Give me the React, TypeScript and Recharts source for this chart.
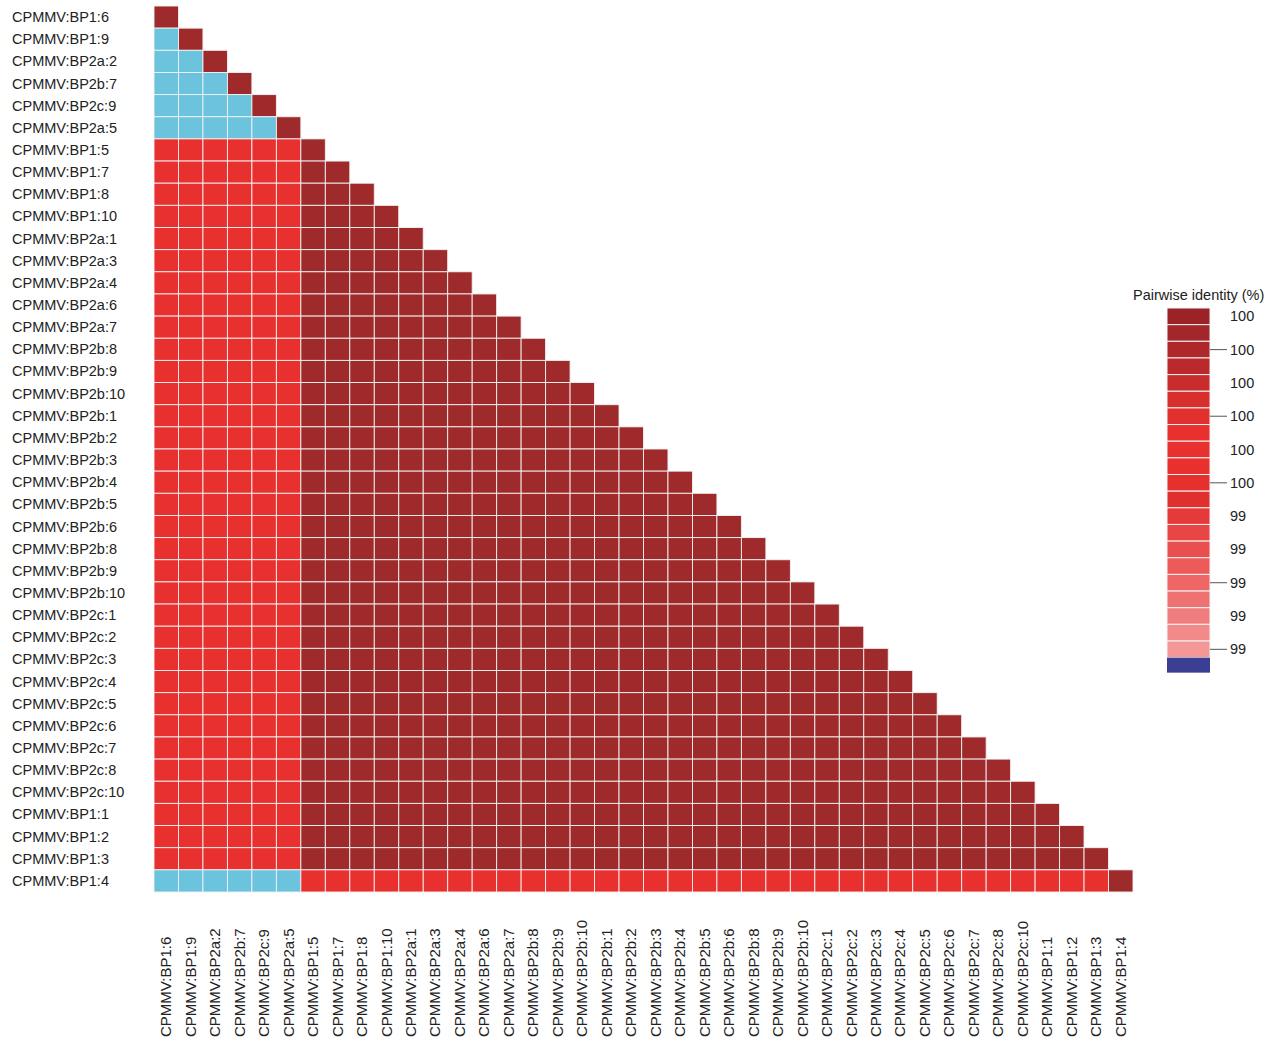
import React from 'react';
import { ScatterChart, Scatter, XAxis, YAxis } from 'recharts';

const LABELS = [
  'CPMMV:BP1:6', 'CPMMV:BP1:9', 'CPMMV:BP2a:2', 'CPMMV:BP2b:7', 'CPMMV:BP2c:9', 'CPMMV:BP2a:5',
  'CPMMV:BP1:5', 'CPMMV:BP1:7', 'CPMMV:BP1:8', 'CPMMV:BP1:10', 'CPMMV:BP2a:1', 'CPMMV:BP2a:3',
  'CPMMV:BP2a:4', 'CPMMV:BP2a:6', 'CPMMV:BP2a:7', 'CPMMV:BP2b:8', 'CPMMV:BP2b:9', 'CPMMV:BP2b:10',
  'CPMMV:BP2b:1', 'CPMMV:BP2b:2', 'CPMMV:BP2b:3', 'CPMMV:BP2b:4', 'CPMMV:BP2b:5', 'CPMMV:BP2b:6',
  'CPMMV:BP2b:8', 'CPMMV:BP2b:9', 'CPMMV:BP2b:10', 'CPMMV:BP2c:1', 'CPMMV:BP2c:2', 'CPMMV:BP2c:3',
  'CPMMV:BP2c:4', 'CPMMV:BP2c:5', 'CPMMV:BP2c:6', 'CPMMV:BP2c:7', 'CPMMV:BP2c:8', 'CPMMV:BP2c:10',
  'CPMMV:BP1:1', 'CPMMV:BP1:2', 'CPMMV:BP1:3', 'CPMMV:BP1:4',
];

// cluster membership of each sequence
const GROUPS = [
  'A', 'A', 'A', 'A', 'A', 'A',
  'B', 'B', 'B', 'B', 'B', 'B', 'B', 'B', 'B', 'B', 'B', 'B', 'B', 'B', 'B', 'B', 'B', 'B',
  'B', 'B', 'B', 'B', 'B', 'B', 'B', 'B', 'B', 'B', 'B', 'B', 'B', 'B', 'B',
  'A',
];

// pairwise identity (%) between / within clusters
const IDENTITY_AA = 98.9;
const IDENTITY_AB = 99.8;
const IDENTITY_BB = 100;
const IDENTITY_SELF = 100;

const LEGEND_COLORS = [
  '#9b2226', '#a3262a', '#ae282b', '#ba2a2c', '#c92c2d', '#d72e2e', '#e2302e',
  '#e8312f', '#e8312f', '#e8312f', '#e5302e', '#e0302d', '#e5393a', '#e84545',
  '#ea4f50', '#ec5a5a', '#ee6666', '#ef7272', '#f07e7e', '#f28a8a', '#f39797',
];
const LEGEND_LOW = '#3a3f93';
const LEGEND_LABELS = ['100', '100', '100', '100', '100', '100', '99', '99', '99', '99', '99'];
const LEGEND_TICKED = [false, true, false, true, false, true, false, false, true, false, true];

const COLOR_TOP = '#9e2a2b';
const COLOR_MID = '#e8302e';
const COLOR_OUT = '#6bc3de';

const W = 1270;
const H = 1042;
const MARGIN = { top: 6, right: 137, bottom: 0, left: 0 };
const Y_AXIS_W = 154;
const X_AXIS_H = 150;
const N = LABELS.length;
const CELL_W = (W - MARGIN.left - MARGIN.right - Y_AXIS_W) / N;
const CELL_H = (H - MARGIN.top - MARGIN.bottom - X_AXIS_H) / N;
const FONT = '"Liberation Sans", Arial, sans-serif';

function pairIdentity(i: number, j: number) {
  if (i === j) return IDENTITY_SELF;
  const a = GROUPS[i];
  const b = GROUPS[j];
  if (a === 'B' && b === 'B') return IDENTITY_BB;
  if (a === 'A' && b === 'A') return IDENTITY_AA;
  return IDENTITY_AB;
}

function colorFor(v: number) {
  if (v >= 99.99) return COLOR_TOP;
  if (v >= 99.5) return COLOR_MID;
  return COLOR_OUT;
}

const cells: { x: number; y: number; v: number }[] = [];
for (let i = 0; i < N; i++) {
  for (let j = 0; j <= i; j++) {
    cells.push({ x: j + 0.5, y: i + 0.5, v: pairIdentity(i, j) });
  }
}
const TICKS = LABELS.map((_, i) => i + 0.5);

const CellShape = (props: any) => {
  const { cx, cy, payload } = props;
  return (
    <rect
      x={cx - CELL_W / 2}
      y={cy - CELL_H / 2}
      width={CELL_W}
      height={CELL_H}
      fill={colorFor(payload.v)}
      stroke="#f2f2f2"
      strokeWidth={0.9}
    />
  );
};

const YTick = (props: any) => {
  const { y, payload } = props;
  return (
    <text x={12} y={y} dy={5} fontSize={14.5} fill="#222" fontFamily={FONT} textAnchor="start">
      {LABELS[Math.floor(payload.value)]}
    </text>
  );
};

const XTick = (props: any) => {
  const { x, payload } = props;
  return (
    <text
      transform={`translate(${x + 5},${H - 5}) rotate(-90)`}
      fontSize={15}
      fill="#222"
      fontFamily={FONT}
      textAnchor="start"
    >
      {LABELS[Math.floor(payload.value)]}
    </text>
  );
};

const ColorLegend = () => {
  const segH = 16.65;
  const top = 308;
  const x0 = 1167;
  const bw = 43;
  return (
    <svg
      width={W}
      height={H}
      style={{ position: 'absolute', left: 0, top: 0, pointerEvents: 'none' }}
    >
      <text x={1133} y={300} fontSize={14.5} fill="#222" fontFamily={FONT}>
        Pairwise identity (%)
      </text>
      {LEGEND_COLORS.map((c, k) => (
        <rect key={k} x={x0} y={top + k * segH} width={bw} height={segH} fill={c} stroke="#f4f4f4" strokeWidth={1} />
      ))}
      <rect x={x0} y={top + LEGEND_COLORS.length * segH} width={bw} height={15} fill={LEGEND_LOW} />
      {LEGEND_LABELS.map((l, k) => {
        const cy = top + (2 * k + 0.5) * segH;
        return (
          <g key={k}>
            {LEGEND_TICKED[k] && <line x1={x0 + bw} x2={x0 + bw + 17} y1={cy} y2={cy} stroke="#555" strokeWidth={1} />}
            <text x={1230} y={cy + 5} fontSize={14.5} fill="#222" fontFamily={FONT}>
              {l}
            </text>
          </g>
        );
      })}
    </svg>
  );
};

export default function App() {
  return (
    <div style={{ position: 'relative', width: W, height: H, background: '#fff' }}>
      <style>{`body{margin:0}`}</style>
      <ScatterChart width={W} height={H} margin={MARGIN}>
        <XAxis
          type="number"
          dataKey="x"
          domain={[0, N]}
          ticks={TICKS}
          interval={0}
          axisLine={false}
          tickLine={false}
          height={X_AXIS_H}
          tick={<XTick />}
        />
        <YAxis
          type="number"
          dataKey="y"
          domain={[0, N]}
          reversed
          ticks={TICKS}
          interval={0}
          axisLine={false}
          tickLine={false}
          width={Y_AXIS_W}
          tick={<YTick />}
        />
        <Scatter data={cells} shape={<CellShape />} isAnimationActive={false} />
      </ScatterChart>
      <ColorLegend />
    </div>
  );
}
